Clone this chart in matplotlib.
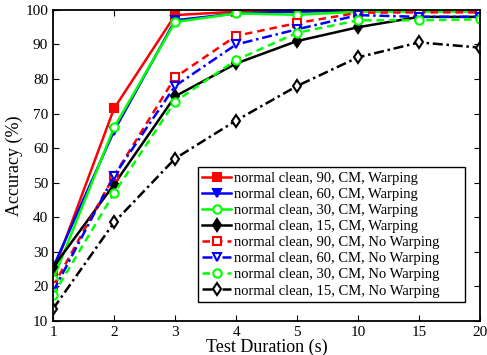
import numpy as np
import matplotlib
matplotlib.use("Agg")
import matplotlib.pyplot as plt

plt.rcParams['font.family'] = ['Liberation Serif', 'DejaVu Serif']

durations = ['1', '2', '3', '4', '5', '10', '15', '20']

# accuracy (%) per test duration
warp_90 = [24, 71.5, 98.5, 99.5, 99.7, 99.9, 99.9, 99.9]
warp_60 = [25.5, 65, 97, 99, 99.5, 99.8, 99.8, 99.8]
warp_30 = [22, 66, 96.5, 99, 98.6, 99.5, 99.5, 99.5]
warp_15 = [25.5, 49.5, 75, 84.5, 91, 95, 98, 98]
nowarp_90 = [20, 52, 80.5, 92.5, 96.2, 99.2, 99.3, 99.3]
nowarp_60 = [18.5, 52, 78, 90, 94.4, 98.5, 98, 98]
nowarp_30 = [17.5, 47, 73.5, 85.5, 93.4, 97, 97, 97.3]
nowarp_15 = [13.5, 38.5, 57, 68, 78, 86.3, 90.6, 89.1]

dashed = (0, (3, 2))
dashdot = (0, (4, 1.5, 1, 1.5))

series = [
    (warp_90, 'normal clean, 90, CM, Warping', 'r', '-', 's', True),
    (warp_60, 'normal clean, 60, CM, Warping', 'b', '-', 'v', True),
    (warp_30, 'normal clean, 30, CM, Warping', 'lime', '-', 'o', False),
    (warp_15, 'normal clean, 15, CM, Warping', 'k', '-', 'd', True),
    (nowarp_90, 'normal clean, 90, CM, No Warping', 'r', dashed, 's', False),
    (nowarp_60, 'normal clean, 60, CM, No Warping', 'b', dashdot, 'v', False),
    (nowarp_30, 'normal clean, 30, CM, No Warping', 'lime', dashed, 'o', False),
    (nowarp_15, 'normal clean, 15, CM, No Warping', 'k', dashdot, 'd', False),
]

fig = plt.figure(figsize=(4.87, 3.55), dpi=100)
ax = fig.add_axes([0.109, 0.096, 0.877, 0.876])

x = np.arange(len(durations))
for vals, label, color, ls, marker, filled in series:
    ax.plot(x, vals, color=color, linestyle=ls, marker=marker, label=label,
            linewidth=1.8, markersize=6, markeredgewidth=1.5,
            markerfacecolor=color if filled else 'white')

ax.set_xlim(0, len(durations) - 1)
ax.set_ylim(10, 100)
ax.set_xticks(x)
ax.set_xticklabels(durations)
ax.set_yticks(np.arange(10, 101, 10))
ax.tick_params(direction='in', top=True, right=True, labelsize=11, length=4)
for sp in ax.spines.values():
    sp.set_linewidth(1.3)

ax.set_xlabel('Test Duration (s)', fontsize=13, labelpad=0)
ax.set_ylabel('Accuracy (%)', fontsize=13, labelpad=2)

# legend box stretched to the reference width (MATLAB style right padding)
leg = ax.legend(loc='lower left', bbox_to_anchor=(0.339, 0.061, 0.626, 0.43),
                mode='expand', borderaxespad=0,
                fontsize=10.5, fancybox=False, framealpha=1, edgecolor='k',
                handlelength=2, handletextpad=0.2, labelspacing=0.2,
                borderpad=0.3)
leg.get_frame().set_linewidth(1.0)

fig.savefig('out.png', dpi=100)
